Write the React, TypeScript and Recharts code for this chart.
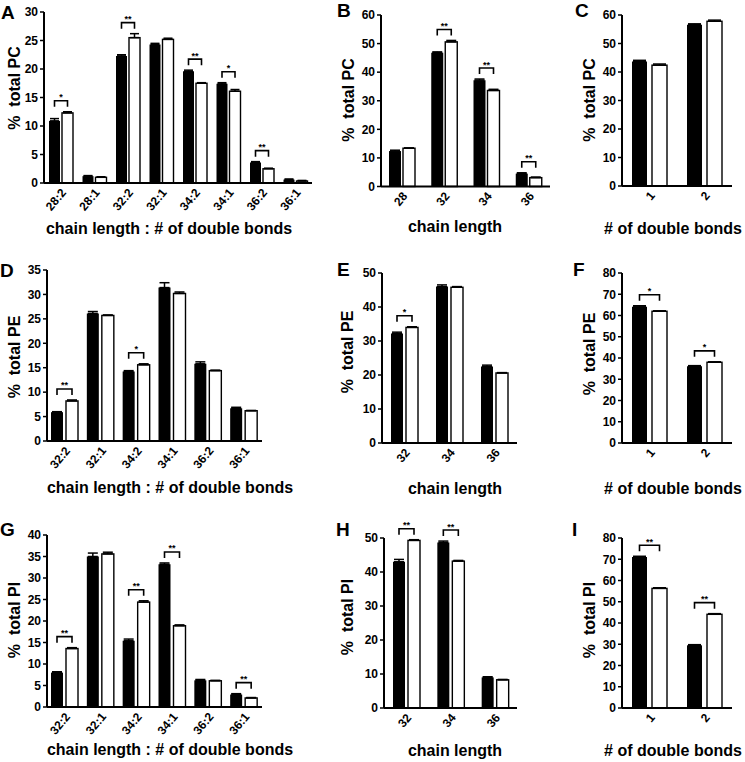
import React from "react";
import { BarChart, Bar, XAxis, YAxis, ErrorBar } from "recharts";

const FONT = '"Liberation Sans", Arial, Helvetica, sans-serif';

// PC
const A_CATS = ["28:2", "28:1", "32:2", "32:1", "34:2", "34:1", "36:2", "36:1"];
const A_BLACK = [10.9, 1.2, 22.3, 24.3, 19.6, 17.4, 3.6, 0.6];
const A_WHITE = [12.3, 1.0, 25.5, 25.2, 17.5, 16.1, 2.5, 0.35];
const A_BLACK_ERR = [0.4, 0.1, 0.2, 0.2, 0.2, 0.2, 0.15, 0.1];
const A_WHITE_ERR = [0.2, 0.1, 0.7, 0.2, 0.1, 0.3, 0.1, 0.1];
const A_SIG = ["*", "", "**", "", "**", "*", "**", ""];

const B_CATS = ["28", "32", "34", "36"];
const B_BLACK = [12.4, 46.8, 37.2, 4.5];
const B_WHITE = [13.4, 50.6, 33.6, 3.1];
const B_BLACK_ERR = [0.3, 0.3, 0.4, 0.3];
const B_WHITE_ERR = [0.1, 0.5, 0.4, 0.2];
const B_SIG = ["", "**", "**", "**"];

const C_CATS = ["1", "2"];
const C_BLACK = [43.7, 56.6];
const C_WHITE = [42.4, 57.8];
const C_BLACK_ERR = [0.4, 0.3];
const C_WHITE_ERR = [0.4, 0.4];
const C_SIG = ["", ""];

// PE
const D_CATS = ["32:2", "32:1", "34:2", "34:1", "36:2", "36:1"];
const D_BLACK = [5.9, 26.1, 14.2, 31.4, 15.8, 6.7];
const D_WHITE = [8.2, 25.7, 15.6, 30.2, 14.4, 6.2];
const D_BLACK_ERR = [0.1, 0.4, 0.2, 1.0, 0.4, 0.2];
const D_WHITE_ERR = [0.2, 0.1, 0.2, 0.3, 0.1, 0.05];
const D_SIG = ["**", "", "*", "", "", ""];

const E_CATS = ["32", "34", "36"];
const E_BLACK = [32.2, 46.0, 22.5];
const E_WHITE = [34.0, 45.8, 20.6];
const E_BLACK_ERR = [0.4, 0.5, 0.4];
const E_WHITE_ERR = [0.2, 0.2, 0.1];
const E_SIG = ["*", "", ""];

const F_CATS = ["1", "2"];
const F_BLACK = [64.1, 36.1];
const F_WHITE = [62.0, 38.0];
const F_BLACK_ERR = [0.5, 0.3];
const F_WHITE_ERR = [0.2, 0.2];
const F_SIG = ["*", "*"];

// PI
const G_CATS = ["32:2", "32:1", "34:2", "34:1", "36:2", "36:1"];
const G_BLACK = [8.0, 35.0, 15.4, 33.2, 6.2, 2.9];
const G_WHITE = [13.6, 35.6, 24.4, 18.9, 6.1, 2.1];
const G_BLACK_ERR = [0.2, 0.8, 0.4, 0.3, 0.2, 0.2];
const G_WHITE_ERR = [0.2, 0.4, 0.3, 0.2, 0.1, 0.1];
const G_SIG = ["**", "", "**", "**", "", "**"];

const H_CATS = ["32", "34", "36"];
const H_BLACK = [43.0, 48.7, 9.0];
const H_WHITE = [49.3, 43.2, 8.3];
const H_BLACK_ERR = [0.7, 0.4, 0.2];
const H_WHITE_ERR = [0.2, 0.2, 0.1];
const H_SIG = ["**", "**", ""];

const I_CATS = ["1", "2"];
const I_BLACK = [71.1, 29.5];
const I_WHITE = [56.3, 44.1];
const I_BLACK_ERR = [0.3, 0.3];
const I_WHITE_ERR = [0.3, 0.3];
const I_SIG = ["**", "**"];

const TICKS_30 = [0, 5, 10, 15, 20, 25, 30];
const TICKS_35 = [0, 5, 10, 15, 20, 25, 30, 35];
const TICKS_40 = [0, 5, 10, 15, 20, 25, 30, 35, 40];
const TICKS_50 = [0, 10, 20, 30, 40, 50];
const TICKS_60 = [0, 10, 20, 30, 40, 50, 60];
const TICKS_80 = [0, 10, 20, 30, 40, 50, 60, 70, 80];

const LABEL_CHAIN_DB = "chain length : # of double bonds";
const LABEL_CHAIN = "chain length";
const LABEL_DB = "# of double bonds";

function rows(cats: string[], b: number[], w: number[], be: number[], we: number[], sig: string[]) {
  return cats.map((c, i) => ({
    cat: c,
    b: b[i],
    w: w[i],
    be: [0, be[i]],
    we: [0, we[i]],
    bTop: b[i] + be[i],
    wTop: w[i] + we[i],
    sig: sig[i],
  }));
}

const whiteShape = (gap: number) => (props: any) => {
  const { x, y, width, height, payload } = props;
  const out = [
    <rect key="r" x={x} y={y} width={width} height={height} fill="#fff" stroke="#000" strokeWidth={1.4} />,
  ];
  if (payload.sig) {
    const zero = y + height;
    const ppu = height / payload.w;
    const top = zero - Math.max(payload.bTop, payload.wTop) * ppu;
    const ly = top - 11;
    const x1 = x - gap - width / 2;
    const x2 = x + width / 2;
    out.push(
      <path key="p" d={`M${x1},${ly + 6}V${ly}H${x2}V${ly + 6}`} fill="none" stroke="#000" strokeWidth={1.6} />
    );
    out.push(
      <text key="t" x={(x1 + x2) / 2} y={ly - 0.5} textAnchor="middle" fontSize={9} fontWeight="bold" fontFamily={FONT} fill="#000">
        {payload.sig}
      </text>
    );
  }
  return <g>{out}</g>;
};

const XTick = (props: any) => {
  const { x, y, payload } = props;
  const ax = x + 6;
  const ay = y + 10;
  return (
    <text x={ax} y={ay} transform={`rotate(-50 ${ax} ${ay})`} textAnchor="end" fontSize={12} fontWeight="bold" fontFamily={FONT} fill="#000">
      {payload.value}
    </text>
  );
};

type Spec = {
  letter: string;
  letterPos: [number, number];
  data: any[];
  plot: [number, number, number, number]; // left, top, right, bottom
  ticks: number[];
  barSize: number;
  gap: number;
  yLabel: string;
  yLabelPos: [number, number];
  xLabel: string;
  xLabelPos: [number, number];
};

const SPECS: Spec[] = [
  { letter: "A", letterPos: [1, 3], data: rows(A_CATS, A_BLACK, A_WHITE, A_BLACK_ERR, A_WHITE_ERR, A_SIG), plot: [44, 12, 312, 183], ticks: TICKS_30, barSize: 11, gap: 2, yLabel: "%  total PC", yLabelPos: [15, 88], xLabel: LABEL_CHAIN_DB, xLabelPos: [169, 229] },
  { letter: "B", letterPos: [337, 1], data: rows(B_CATS, B_BLACK, B_WHITE, B_BLACK_ERR, B_WHITE_ERR, B_SIG), plot: [381, 15, 550, 186.5], ticks: TICKS_60, barSize: 12, gap: 2, yLabel: "%  total PC", yLabelPos: [349, 100], xLabel: LABEL_CHAIN, xLabelPos: [455, 227] },
  { letter: "C", letterPos: [575, 1], data: rows(C_CATS, C_BLACK, C_WHITE, C_BLACK_ERR, C_WHITE_ERR, C_SIG), plot: [622, 15, 732, 186], ticks: TICKS_60, barSize: 15, gap: 5, yLabel: "%  total PC", yLabelPos: [590, 100], xLabel: LABEL_DB, xLabelPos: [673, 229] },
  { letter: "D", letterPos: [0, 261], data: rows(D_CATS, D_BLACK, D_WHITE, D_BLACK_ERR, D_WHITE_ERR, D_SIG), plot: [47, 270, 262, 441], ticks: TICKS_35, barSize: 12, gap: 3, yLabel: "%  total PE", yLabelPos: [15, 357], xLabel: LABEL_CHAIN_DB, xLabelPos: [170, 488] },
  { letter: "E", letterPos: [337, 260], data: rows(E_CATS, E_BLACK, E_WHITE, E_BLACK_ERR, E_WHITE_ERR, E_SIG), plot: [382, 273, 517, 443], ticks: TICKS_50, barSize: 12, gap: 3, yLabel: "%  total PE", yLabelPos: [348, 352], xLabel: LABEL_CHAIN, xLabelPos: [455, 489] },
  { letter: "F", letterPos: [573, 260], data: rows(F_CATS, F_BLACK, F_WHITE, F_BLACK_ERR, F_WHITE_ERR, F_SIG), plot: [622, 273, 732, 443], ticks: TICKS_80, barSize: 15, gap: 5, yLabel: "%  total PE", yLabelPos: [590, 354], xLabel: LABEL_DB, xLabelPos: [673, 489] },
  { letter: "G", letterPos: [0, 520], data: rows(G_CATS, G_BLACK, G_WHITE, G_BLACK_ERR, G_WHITE_ERR, G_SIG), plot: [47, 535, 262, 707], ticks: TICKS_40, barSize: 12, gap: 3, yLabel: "%  total PI", yLabelPos: [15, 620], xLabel: LABEL_CHAIN_DB, xLabelPos: [170, 750] },
  { letter: "H", letterPos: [336, 520], data: rows(H_CATS, H_BLACK, H_WHITE, H_BLACK_ERR, H_WHITE_ERR, H_SIG), plot: [384, 538, 517, 708], ticks: TICKS_50, barSize: 12, gap: 3, yLabel: "%  total PI", yLabelPos: [348, 617], xLabel: LABEL_CHAIN, xLabelPos: [455, 751] },
  { letter: "I", letterPos: [572, 520], data: rows(I_CATS, I_BLACK, I_WHITE, I_BLACK_ERR, I_WHITE_ERR, I_SIG), plot: [622, 538, 732, 708], ticks: TICKS_80, barSize: 15, gap: 5, yLabel: "%  total PI", yLabelPos: [590, 620], xLabel: LABEL_DB, xLabelPos: [673, 751] },
];

const Y_W = 40;
const TOP_M = 30;
const X_H = 45;
const RIGHT_M = 4;

function Panel({ s }: { s: Spec }) {
  const [l, t, r, b] = s.plot;
  const w = Y_W + (r - l) + RIGHT_M;
  const h = TOP_M + (b - t) + X_H;
  const yMax = s.ticks[s.ticks.length - 1];
  return (
    <>
      <div style={{ position: "absolute", left: l - Y_W, top: t - TOP_M }}>
        <BarChart width={w} height={h} data={s.data} margin={{ top: TOP_M, right: RIGHT_M, bottom: 0, left: 0 }} barSize={s.barSize} barGap={s.gap}>
          <XAxis dataKey="cat" height={X_H} interval={0} tickSize={0} tickMargin={0} tickLine={false} axisLine={{ stroke: "#000", strokeWidth: 2 }} tick={<XTick />} />
          <YAxis
            width={Y_W}
            domain={[0, yMax]}
            ticks={s.ticks}
            interval={0}
            tickSize={4}
            tickMargin={2}
            axisLine={{ stroke: "#000", strokeWidth: 2 }}
            tickLine={{ stroke: "#000", strokeWidth: 1.5 }}
            tick={{ fill: "#000", fontSize: 12, fontWeight: "bold", fontFamily: FONT }}
          />
          <Bar dataKey="b" fill="#000" isAnimationActive={false}>
            <ErrorBar dataKey="be" width={s.barSize / 2 - 1} stroke="#000" strokeWidth={1.5} direction="y" />
          </Bar>
          <Bar dataKey="w" fill="#fff" shape={whiteShape(s.gap)} isAnimationActive={false}>
            <ErrorBar dataKey="we" width={s.barSize / 2 - 1} stroke="#000" strokeWidth={1.5} direction="y" />
          </Bar>
        </BarChart>
      </div>
      <div style={{ position: "absolute", left: s.letterPos[0], top: s.letterPos[1], fontSize: 19, fontWeight: "bold", lineHeight: 1, fontFamily: FONT }}>
        {s.letter}
      </div>
      <div
        style={{
          position: "absolute",
          left: s.yLabelPos[0],
          top: s.yLabelPos[1],
          transform: "translate(-50%, -50%) rotate(-90deg)",
          whiteSpace: "pre",
          fontSize: 16,
          fontWeight: "bold",
          lineHeight: 1,
          fontFamily: FONT,
        }}
      >
        {s.yLabel}
      </div>
      <div
        style={{
          position: "absolute",
          left: s.xLabelPos[0],
          top: s.xLabelPos[1],
          transform: "translate(-50%, -50%)",
          whiteSpace: "pre",
          fontSize: 16,
          fontWeight: "bold",
          lineHeight: 1,
          fontFamily: FONT,
        }}
      >
        {s.xLabel}
      </div>
    </>
  );
}

export default function App() {
  return (
    <div style={{ position: "absolute", left: 0, top: 0, width: 745, height: 762, background: "#fff", overflow: "hidden" }}>
      {SPECS.map((s) => (
        <Panel key={s.letter} s={s} />
      ))}
    </div>
  );
}
